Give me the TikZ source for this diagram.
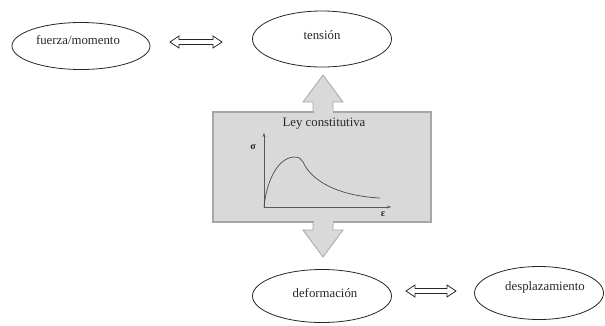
\documentclass[tikz,border=0pt]{standalone}
\usepackage{fontspec}
\setmainfont{Liberation Serif}
\usetikzlibrary{shapes.geometric,arrows.meta,calc}
\definecolor{boxfill}{HTML}{D9D9D9}
\definecolor{boxline}{HTML}{A6A6A6}
\definecolor{txt}{HTML}{262626}
\begin{document}
\begin{tikzpicture}[x=1pt,y=-1pt,
  oval/.style={ellipse,draw=black!85,line width=0.8pt,inner sep=0pt},
  lbl/.style={text=txt,font=\fontsize{12.8}{15}\selectfont},
  blockarrow/.style={fill=boxfill,draw=boxline,line width=0.8pt,line join=miter},
  dblarrow/.style={draw=black!85,line width=0.8pt,fill=white,line join=miter}]
\useasboundingbox (0,0) rectangle (605,325);
% ellipses
\node[oval,minimum width=138pt,minimum height=47pt] (fm) at (81,46) {};
\node[lbl] (fmt) at (78,40) {fuerza/momento};
\node[oval,minimum width=139pt,minimum height=56pt] (ten) at (322,39) {};
\node[lbl] (tent) at (322,35) {tensión};
\node[oval,minimum width=139pt,minimum height=53pt] (def) at (322,296) {};
\node[lbl] (deft) at (325,293) {deformación};
\node[oval,minimum width=129pt,minimum height=53pt] (des) at (539,293) {};
\node[lbl] (dest) at (545,287) {desplazamiento};
% central box
\node[draw=boxline,fill=boxfill,line width=1.2pt,minimum width=218pt,minimum height=110pt,inner sep=0pt] (box) at (322,167) {};
\node[lbl] (ley) at (324,124) {Ley constitutiva};
% block arrows
\draw[blockarrow] (box.north -| 313,0) -- (313,102) -- (303,102) -- (323,75) -- (343,102) -- (333,102) -- (box.north -| 333,0);
\draw[blockarrow] (box.south -| 313,0) -- (313,230) -- (303,230) -- (323,257) -- (343,230) -- (333,230) -- (box.south -| 333,0);
\fill[boxfill] (313.5,110) rectangle (332.5,114);
\fill[boxfill] (313.5,220) rectangle (332.5,224);
\draw[boxline,line width=1.2pt] (box.north west) -- (313,0 |- box.north);
\draw[boxline,line width=1.2pt] (333,0 |- box.north) -- (box.north east);
\draw[boxline,line width=1.2pt] (box.south west) -- (313,0 |- box.south);
\draw[boxline,line width=1.2pt] (333,0 |- box.south) -- (box.south east);
% graph
\coordinate (o) at (264,207);
\draw[gray!70!black,line width=0.6pt,-{Stealth[length=4pt,width=3pt]}] (o) -- (264,133);
\draw[gray!70!black,line width=0.6pt,-{Stealth[length=4pt,width=3pt]}] (o) -- (391,207);
\node[font=\fontsize{10}{12}\selectfont\bfseries,text=txt] (sig) at (253,147) {σ};
\node[font=\fontsize{10}{12}\selectfont\bfseries,text=txt] (eps) at (383,214) {ε};
\draw[gray!60!black,line width=0.7pt] (o) .. controls (266,185) and (276,158) .. (294,157)
  .. controls (300,157) and (301,159) .. (303,162)
  .. controls (312,182) and (340,196) .. (380,198);
% double arrows
\coordinate (a1) at (196,42);
\draw[dblarrow] ($(a1)+(-26,0)$) -- ++(9,-6) -- ++(0,3.5) -- ($(a1)+(17,-2.5)$) -- ++(0,-3.5) -- ++(9,6) -- ++(-9,6) -- ++(0,-3.5) -- ($(a1)+(-17,2.5)$) -- ++(0,3.5) -- cycle;
\coordinate (a2) at (431,291);
\draw[dblarrow] ($(a2)+(-25,0)$) -- ++(9,-6) -- ++(0,3.5) -- ($(a2)+(16,-2.5)$) -- ++(0,-3.5) -- ++(9,6) -- ++(-9,6) -- ++(0,-3.5) -- ($(a2)+(-16,2.5)$) -- ++(0,3.5) -- cycle;
\end{tikzpicture}
\end{document}
